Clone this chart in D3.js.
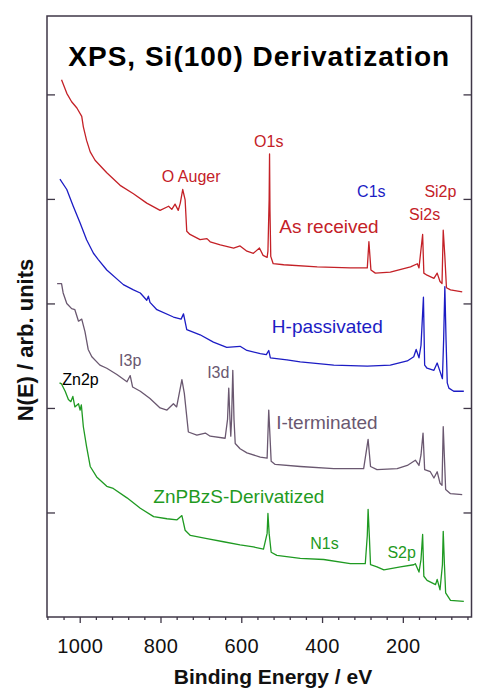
<!DOCTYPE html>
<html>
<head>
<meta charset="utf-8">
<script src="https://cdn.jsdelivr.net/npm/d3@7"></script>
<style>
body { margin: 0; background: #fff; }
text { font-family: "Liberation Sans", Arial, Helvetica, sans-serif; }
</style>
</head>
<body>
<div id="chart"></div>
<script>
// binding energy (eV), N(E) in arb. units (offset stacked)
var asReceived = [[1045,5.14],[1032,5.01],[1020,4.93],[1007,4.87],[995,4.79],[991,4.69],[983,4.56],[974,4.45],[962,4.37],[933,4.25],[900,4.13],[867,4.05],[834,3.96],[801,3.89],[780,3.93],[772,3.90],[764,3.95],[756,3.89],[751,3.96],[745,4.09],[739,3.99],[735,3.69],[727,3.66],[702,3.61],[685,3.62],[677,3.59],[652,3.56],[619,3.53],[603,3.55],[586,3.50],[570,3.48],[555,3.53],[546,3.46],[536,3.44],[534,3.50],[531,4.00],[530,4.43],[529,3.90],[527,3.45],[521,3.38],[495,3.37],[412,3.35],[330,3.34],[288,3.34],[284,3.59],[279,3.32],[268,3.29],[231,3.30],[181,3.35],[164,3.38],[160,3.34],[151,3.66],[148,3.29],[140,3.27],[123,3.24],[115,3.29],[108,3.21],[103,3.19],[100,3.70],[96,3.45],[92,3.15],[82,3.13],[53,3.11]];

var hPassivated = [[1049,4.19],[1032,4.09],[1016,3.93],[999,3.77],[983,3.61],[966,3.48],[954,3.42],[933,3.32],[892,3.18],[867,3.13],[850,3.10],[834,3.03],[830,3.07],[826,3.01],[809,2.94],[768,2.87],[749,2.85],[743,2.90],[735,2.75],[702,2.70],[669,2.63],[636,2.58],[603,2.59],[586,2.55],[553,2.52],[538,2.51],[532,2.55],[528,2.48],[487,2.46],[454,2.44],[371,2.41],[288,2.40],[231,2.41],[189,2.45],[173,2.49],[167,2.56],[160,2.48],[155,2.60],[149,3.06],[146,2.41],[140,2.38],[123,2.36],[115,2.43],[108,2.35],[102,2.28],[99,2.65],[96,3.16],[93,2.65],[90,2.24],[86,2.19],[74,2.16],[49,2.16]];

var iTerminated = [[1056,3.19],[1045,3.19],[1041,3.10],[1032,3.00],[1020,2.95],[1012,2.94],[1003,2.83],[995,2.85],[987,2.73],[979,2.56],[970,2.49],[950,2.41],[933,2.38],[908,2.32],[883,2.25],[875,2.31],[869,2.20],[850,2.16],[826,2.09],[801,2.00],[784,1.98],[768,2.04],[760,2.01],[747,2.27],[741,2.14],[731,1.77],[710,1.74],[689,1.76],[677,1.73],[640,1.71],[634,1.89],[631,2.19],[628,1.89],[626,1.73],[624,1.89],[621,2.36],[618,1.89],[615,1.66],[603,1.61],[586,1.57],[553,1.53],[536,1.52],[532,1.98],[526,1.49],[516,1.46],[454,1.44],[371,1.42],[297,1.42],[286,1.70],[280,1.44],[264,1.41],[214,1.42],[189,1.45],[169,1.50],[160,1.45],[155,1.55],[150,1.76],[146,1.41],[132,1.39],[123,1.33],[115,1.39],[108,1.28],[103,1.26],[100,1.82],[94,1.22],[82,1.18],[53,1.17]];

var znpbzs = [[1050,2.24],[1045,2.23],[1036,2.16],[1028,2.08],[1022,2.06],[1017,2.11],[1012,2.01],[1003,2.04],[999,1.98],[996,2.03],[991,1.82],[983,1.63],[974,1.44],[958,1.34],[933,1.25],[917,1.23],[883,1.14],[850,1.04],[817,0.96],[784,0.94],[759,0.93],[747,0.97],[739,0.83],[726,0.78],[685,0.75],[644,0.72],[603,0.69],[570,0.67],[545,0.65],[536,0.80],[534,0.99],[531,0.80],[526,0.62],[512,0.59],[454,0.56],[396,0.55],[330,0.51],[293,0.51],[288,0.78],[286,1.03],[283,0.78],[280,0.50],[264,0.48],[247,0.45],[206,0.48],[173,0.50],[169,0.51],[160,0.43],[155,0.55],[151,0.79],[148,0.39],[140,0.35],[119,0.31],[115,0.36],[108,0.26],[102,0.50],[100,0.82],[97,0.50],[94,0.23],[82,0.16],[49,0.15]];

var seriesNames = ['As received', 'H-passivated', 'I-terminated', 'ZnPBzS-Derivatized'];
var seriesData = [asReceived, hPassivated, iTerminated, znpbzs];

// peak labels: text, eV, N(E), series index (-1 = black)
var peakLabels = [['O Auger',724,4.16,0],['O1s',532,4.50,0],['C1s',278,4.02,1],['Si2p',107,4.02,0],['Si2s',146,3.80,0],
                  ['Zn2p',998,2.22,-1],['I3p',875,2.40,2],['I3d',657,2.29,2],['N1s',394,0.65,3],['S2p',203,0.56,3]];
// series names: eV, N(E)
var nameAnchors = [[383,3.67],[387,2.72],[388,1.80],[606,1.09]];

var xMajor = [1000, 800, 600, 400, 200];
var xMinor = d3.range(40, 1081, 40);
var yTicks = [1, 2, 3, 4, 5];

var config = {
    width: 488,
    height: 698,
    left: 47,
    right: 471.5,
    top: 16,
    bottom: 617,
    xDomain: [1081, 30],
    yDomain: [0, 5.75],
    colors: ['#c42127', '#1c1cc4', '#6a5870', '#1f9a22'],
    frame: '#3f3747'
};

var x = d3.scaleLinear().domain(config.xDomain).range([config.left, config.right]);
var y = d3.scaleLinear().domain(config.yDomain).range([config.bottom, config.top]);

var svg = d3.select('#chart').append('svg')
    .attr('width', config.width).attr('height', config.height);

/*Traces*/
var line = d3.line().x(function(d){ return x(d[0]); }).y(function(d){ return y(d[1]); });
svg.selectAll('.trace').data(seriesData).enter().append('path')
    .attr('class', 'trace')
    .attr('d', line)
    .style('fill', 'none')
    .style('stroke', function(d, i){ return config.colors[i]; })
    .style('stroke-width', 1.3)
    .style('stroke-linejoin', 'round');

/*Axes*/
var xAxis = svg.append('g').attr('transform', 'translate(0,' + config.bottom + ')')
    .call(d3.axisBottom(x).tickValues(xMajor).tickSize(6).tickFormat(d3.format('d')));
xAxis.selectAll('text').attr('y', 36).attr('dy', null)
    .style('font-size', '20px').style('letter-spacing', '0.4px').style('fill', '#111');
xAxis.select('.domain').remove();

var xMinorAxis = svg.append('g').attr('transform', 'translate(0,' + config.bottom + ')')
    .call(d3.axisBottom(x).tickValues(xMinor.filter(function(v){ return xMajor.indexOf(v) < 0; })).tickSize(3).tickFormat(''));
xMinorAxis.select('.domain').remove();

var yLeft = svg.append('g').attr('transform', 'translate(' + config.left + ',0)')
    .call(d3.axisLeft(y).tickValues(yTicks).tickSize(-8).tickFormat(''));
yLeft.select('.domain').remove();
var yRight = svg.append('g').attr('transform', 'translate(' + config.right + ',0)')
    .call(d3.axisRight(y).tickValues(yTicks).tickSize(-8).tickFormat(''));
yRight.select('.domain').remove();

svg.selectAll('.tick line').style('stroke', config.frame).style('stroke-width', 1.3);

svg.append('rect')
    .attr('x', config.left).attr('y', config.top)
    .attr('width', config.right - config.left).attr('height', config.bottom - config.top)
    .style('fill', 'none').style('stroke', config.frame).style('stroke-width', 1.5);

/*Text*/
svg.append('text').text('XPS, Si(100) Derivatization')
    .attr('x', (config.left + config.right) / 2).attr('y', 66)
    .style('text-anchor', 'middle').style('font-weight', 'bold')
    .style('font-size', '28px').style('letter-spacing', '1px').style('fill', '#000');

svg.append('text').text('Binding Energy / eV')
    .attr('x', 273).attr('y', 684)
    .style('text-anchor', 'middle').style('font-weight', 'bold')
    .style('font-size', '21px').style('fill', '#111');

svg.append('text').text('N(E) / arb. units')
    .attr('transform', 'translate(33,340) rotate(-90)')
    .style('text-anchor', 'middle').style('font-weight', 'bold')
    .style('font-size', '22px').style('fill', '#111');

svg.selectAll('.peak').data(peakLabels).enter().append('text')
    .attr('class', 'peak')
    .text(function(d){ return d[0]; })
    .attr('x', function(d){ return x(d[1]); })
    .attr('y', function(d){ return y(d[2]); })
    .style('text-anchor', 'middle').style('font-size', '16px')
    .style('fill', function(d){ return d[3] < 0 ? '#000' : config.colors[d[3]]; });

svg.selectAll('.name').data(nameAnchors).enter().append('text')
    .attr('class', 'name')
    .text(function(d, i){ return seriesNames[i]; })
    .attr('x', function(d){ return x(d[0]); })
    .attr('y', function(d){ return y(d[1]); })
    .style('text-anchor', 'middle').style('font-size', '19px')
    .style('fill', function(d, i){ return config.colors[i]; });
</script>
</body>
</html>
